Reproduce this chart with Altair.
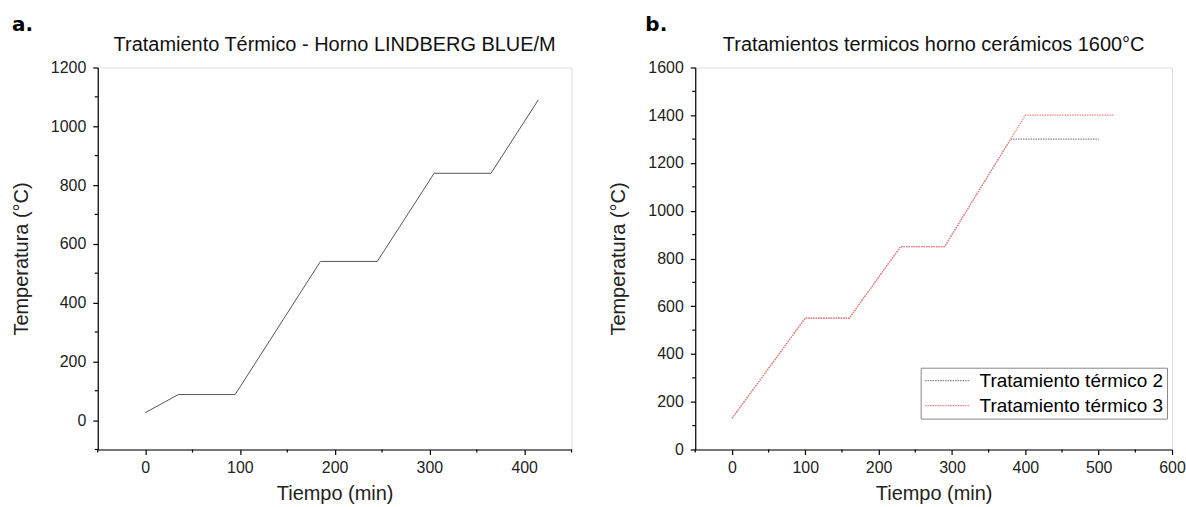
import altair as alt
import pandas as pd

# ---------------- data ----------------
a_time = [0, 35, 95, 185, 245, 305, 365, 415]
a_temp = [25, 87, 87, 540, 540, 840, 840, 1090]

s2_name = "Tratamiento térmico 2"
s3_name = "Tratamiento térmico 3"
b2_time = [0, 100, 160, 230, 290, 380, 500]
b2_temp = [130, 550, 550, 850, 850, 1300, 1300]
b3_time = [0, 100, 160, 230, 290, 400, 520]
b3_temp = [130, 550, 550, 850, 850, 1400, 1400]

a_xticks = [0, 100, 200, 300, 400]
a_xminor = [-50, 50, 150, 250, 350, 450]
a_yticks = [0, 200, 400, 600, 800, 1000, 1200]
a_yminor = [-100, 100, 300, 500, 700, 900, 1100]

b_xticks = [0, 100, 200, 300, 400, 500, 600]
b_xminor = [-50, 50, 150, 250, 350, 450, 550]
b_yticks = [0, 200, 400, 600, 800, 1000, 1200, 1400, 1600]
b_yminor = [100, 300, 500, 700, 900, 1100, 1300, 1500]

title_a = "Tratamiento Térmico - Horno LINDBERG BLUE/M"
title_b = "Tratamientos termicos horno cerámicos 1600°C"
x_title = "Tiempo (min)"
y_title = "Temperatura (°C)"

FONT = "Liberation Sans"
W_A, W_B, H = 475, 478, 383


def axis(values, title, orient):
    return alt.Axis(values=values, title=title, grid=False, tickSize=5,
                    tickColor="black", domainColor="black", domainWidth=1.2,
                    tickWidth=1.2, labelFontSize=16, titleFontSize=20,
                    labelFont=FONT, titleFont=FONT, labelColor="#222",
                    titleColor="#222", titleFontWeight="normal",
                    labelPadding=7 if orient == "y" else 5,
                    titlePadding=19 if orient == "y" else 8,
                    format="d", labelFlush=False, labelOverlap=False)


def panel(lines, xdom, ydom, xticks, xminor, yticks, yminor, width, title, tag, tag_x):
    xs = alt.Scale(domain=xdom, nice=False, zero=False)
    ys = alt.Scale(domain=ydom, nice=False, zero=False)
    xa = axis(xticks, x_title, "x")
    ya = axis(yticks, y_title, "y")
    lines = lines.encode(
        x=alt.X("x:Q", scale=xs, axis=xa),
        y=alt.Y("y:Q", scale=ys, axis=ya),
    )
    xm = alt.Chart(pd.DataFrame({"x": xminor})).mark_rule(
        color="black", strokeWidth=1.2).encode(
        x=alt.X("x:Q", scale=xs, axis=xa),
        y=alt.value(H), y2=alt.value(H + 3))
    ym = alt.Chart(pd.DataFrame({"y": yminor})).mark_rule(
        color="black", strokeWidth=1.2).encode(
        y=alt.Y("y:Q", scale=ys, axis=ya),
        x=alt.value(0), x2=alt.value(-3))
    lab = alt.Chart(pd.DataFrame({"t": [tag]})).mark_text(
        font="DejaVu Sans", fontWeight="bold", fontSize=20, align="left",
        baseline="alphabetic", color="black").encode(
        text="t:N", x=alt.value(tag_x), y=alt.value(-37))
    ttl = alt.Chart(pd.DataFrame({"t": [title]})).mark_text(
        font=FONT, fontSize=20, align="center", baseline="alphabetic",
        color="#111").encode(
        text="t:N", x=alt.value(width / 2), y=alt.value(-17))
    return alt.layer(lines, xm, ym, lab, ttl).properties(width=width, height=H)


df_a = pd.DataFrame({"x": a_time, "y": a_temp})
line_a = alt.Chart(df_a).mark_line(color="#555", strokeWidth=1)

df_b = pd.concat([
    pd.DataFrame({"x": b2_time, "y": b2_temp, "s": s2_name, "o": range(len(b2_time))}),
    pd.DataFrame({"x": b3_time, "y": b3_temp, "s": s3_name, "o": range(len(b3_time))}),
])
line_b = alt.Chart(df_b).mark_line(strokeWidth=1.2, strokeDash=[1.5, 1]).encode(
    color=alt.Color("s:N", scale=alt.Scale(domain=[s2_name, s3_name],
                                           range=["#8a8a8a", "#ff8080"]),
                    legend=alt.Legend(title=None, orient="none", legendX=226, legendY=301,
                                      symbolType="M-2.5,0H2.5", symbolSize=324,
                                      symbolStrokeWidth=1.2, symbolDash=[1.5, 1],
                                      symbolOffset=14, symbolFillColor="transparent",
                                      labelFontSize=19, labelFont=FONT, labelColor="black",
                                      labelLimit=400, labelOffset=22,
                                      strokeColor="#888", padding=3,
                                      rowPadding=5, fillColor="white")),
    order="o:Q",
)

pa = panel(line_a, [-50, 450], [-100, 1200], a_xticks, a_xminor, a_yticks, a_yminor,
           W_A, title_a, "a.", -86)
pb = panel(line_b, [-50, 600], [0, 1600], b_xticks, b_xminor, b_yticks, b_yminor,
           W_B, title_b, "b.", -50)

chart = alt.hconcat(pa, pb, spacing=34).resolve_legend(color="independent").properties(
    padding={"left": 10, "top": 13, "right": 0, "bottom": 0}
).configure_view(strokeWidth=0).configure(background="white")

chart.save("out.html", embed_options={"renderer": "svg", "actions": False})
